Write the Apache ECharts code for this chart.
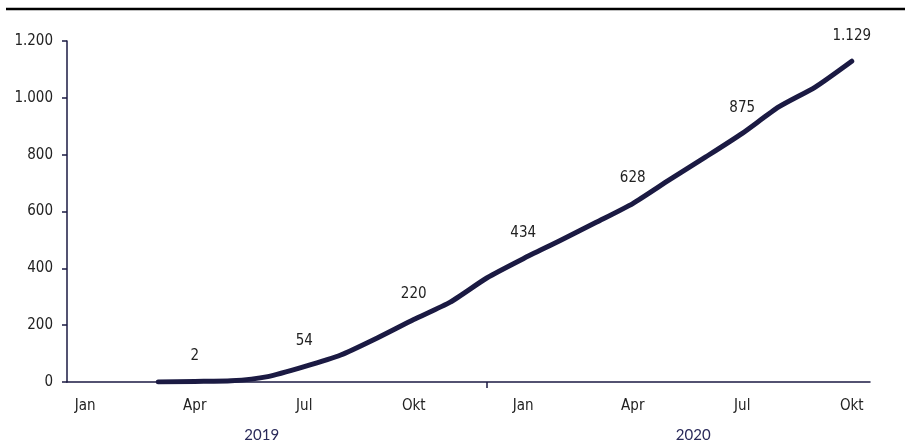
<!DOCTYPE html>
<html>
<head>
<meta charset="utf-8">
<script src="https://cdn.jsdelivr.net/npm/echarts@6/dist/echarts.min.js"></script>
<style>
  html, body { margin: 0; padding: 0; background: #fff; }
  #chart { width: 905px; height: 447px; }
</style>
</head>
<body>
<div id="chart"></div>
<script>
// months Jan 2019 .. Okt 2020
const months = ['Jan', 'Feb', 'Mär', 'Apr', 'Mai', 'Jun', 'Jul', 'Aug', 'Sep', 'Okt', 'Nov', 'Dez',
  'Jan', 'Feb', 'Mär', 'Apr', 'Mai', 'Jun', 'Jul', 'Aug', 'Sep', 'Okt']
const years = ['2019', '2020']
const values = [null, null, 0, 2, 4, 19, 54, 95, 155, 220, 281, 366,
  434, 497, 562, 628, 711, 792, 875, 968, 1038, 1129]
const shownMonths = ['Jan', 'Apr', 'Jul', 'Okt']

const navy = '#1b1a43'
const narrow = "'Liberation Sans Narrow', 'DejaVu Sans Condensed', sans-serif"
const fmt = v => String(v).replace(/\B(?=(\d{3})+(?!\d))/g, '.')

const chart = echarts.init(document.getElementById('chart'))
chart.setOption({
  animation: false,
  grid: { left: 67, right: 35, top: 41, bottom: 65 },
  graphic: [
    {
      type: 'line',
      shape: { x1: 6, y1: 9, x2: 905, y2: 9 },
      style: { stroke: '#000', lineWidth: 2.5 },
    },
  ],
  xAxis: [
    {
      type: 'category',
      data: months,
      axisLine: { lineStyle: { color: navy, width: 1.5 } },
      // only the year break gets a tick
      axisTick: {
        show: true,
        alignWithLabel: true,
        length: 6,
        interval: (i) => i === 11,
        lineStyle: { color: navy, width: 1.5 },
      },
      axisLabel: {
        interval: 0,
        margin: 17,
        fontFamily: narrow,
        fontSize: 15,
        color: '#222',
        formatter: (v, i) => (i % 3 === 0 ? v : ''),
      },
    },
    {
      type: 'category',
      data: years,
      position: 'bottom',
      axisLine: { show: false },
      axisTick: { show: false },
      axisLabel: {
        margin: 46,
        formatter: (v) => (v === '2020' ? '{b|' + v + '}' : '{a|' + v + '}'),
        rich: {
          a: { fontFamily: 'Lato, sans-serif', fontSize: 15, color: '#2a2a5a', padding: [0, 12, 0, 0] },
          b: { fontFamily: 'Lato, sans-serif', fontSize: 15, color: '#2a2a5a', padding: [0, 0, 0, 48] },
        },
      },
    },
  ],
  yAxis: {
    type: 'value',
    min: 0,
    max: 1200,
    interval: 200,
    splitLine: { show: false },
    axisLine: { show: true, lineStyle: { color: navy, width: 1.5 } },
    axisTick: { show: true, length: 5, lineStyle: { color: navy, width: 1.5 } },
    axisLabel: {
      margin: 14,
      fontFamily: narrow,
      fontSize: 15,
      color: '#222',
      formatter: fmt,
    },
  },
  series: [
    {
      type: 'line',
      data: values,
      smooth: 0.2,
      showSymbol: true,
      symbol: 'circle',
      symbolSize: 0,
      lineStyle: { color: navy, width: 5, cap: 'round', join: 'round' },
      itemStyle: { color: navy },
      label: {
        show: true,
        position: 'top',
        distance: 18,
        fontFamily: narrow,
        fontSize: 15,
        color: '#222',
        formatter: (p) => (shownMonths.includes(months[p.dataIndex]) && p.value != null ? fmt(p.value) : ''),
      },
    },
  ],
})
</script>
</body>
</html>
